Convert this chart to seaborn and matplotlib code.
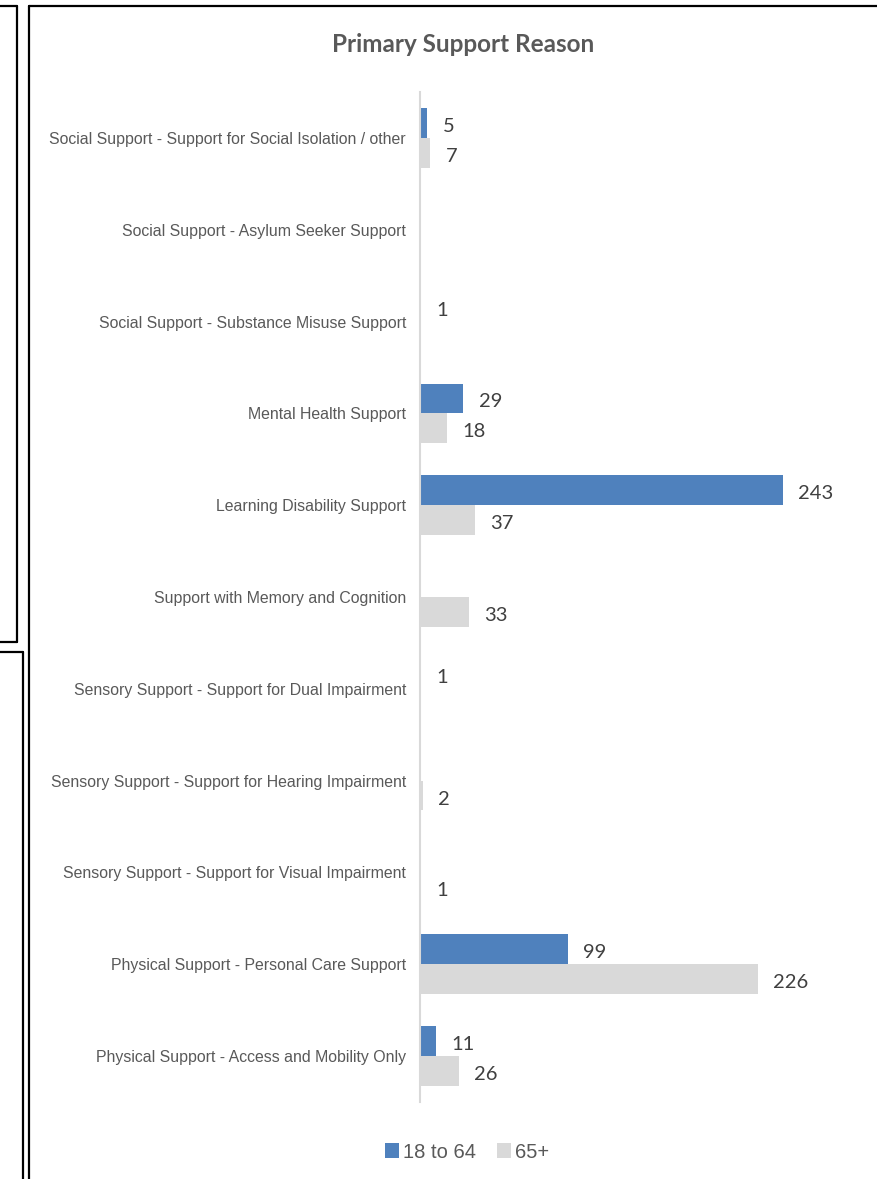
import numpy as np
import pandas as pd
import matplotlib
matplotlib.use('Agg')
import matplotlib.pyplot as plt
import seaborn as sns
from matplotlib.patches import Patch
from matplotlib.lines import Line2D

categories = [
    "Social Support - Support for Social Isolation / other",
    "Social Support - Asylum Seeker Support",
    "Social Support - Substance Misuse Support",
    "Mental Health Support",
    "Learning Disability Support",
    "Support with Memory and Cognition",
    "Sensory Support - Support for Dual Impairment",
    "Sensory Support - Support for Hearing Impairment",
    "Sensory Support - Support for Visual Impairment",
    "Physical Support - Personal Care Support",
    "Physical Support - Access and Mobility Only",
]
age_18_64 = [5, 0, 1, 29, 243, 0, 1, 0, 0, 99, 11]
age_65_plus = [7, 0, 0, 18, 37, 33, 0, 2, 1, 226, 26]
series_names = ["18 to 64", "65+"]
colors = ["#4f81bd", "#d9d9d9"]
title = "Primary Support Reason"

df = pd.DataFrame({
    "reason": categories * 2,
    "count": age_18_64 + age_65_plus,
    "group": [series_names[0]] * len(categories) + [series_names[1]] * len(categories),
})

sns.set_theme(style="white")
plt.rcParams['font.family'] = ['Liberation Sans', 'DejaVu Sans']

fig = plt.figure(figsize=(8.77, 11.79), dpi=100)
ax = fig.add_axes([420 / 877, 1 - 1102 / 1179, 450 / 877, (1102 - 92) / 1179])

sns.barplot(data=df, y="reason", x="count", hue="group", order=categories,
            hue_order=series_names, palette=colors, saturation=1, width=0.65, linewidth=0,
            orient="h", ax=ax, legend=False)

ax.set_xlim(0, 450 / 1.494)
ax.set_ylim(len(categories) - 0.5, -0.5)
ax.set_xlabel("")
ax.set_ylabel("")
ax.set_xticks([])
for s in ["top", "right", "bottom"]:
    ax.spines[s].set_visible(False)
ax.spines["left"].set_color("#d9d9d9")
ax.spines["left"].set_linewidth(1.5)
ax.tick_params(axis="y", which="major", length=0, pad=10, labelsize=11.4, labelcolor="#595959")
ax.set_yticks(np.arange(-0.5, len(categories) + 0.5, 1), minor=True)
ax.tick_params(axis="y", which="minor", length=4, width=1.2, color="#d9d9d9", direction="out")

for cont in ax.containers:
    labels = [f"{v:.0f}" if v > 0 else "" for v in cont.datavalues]
    anns = ax.bar_label(cont, labels=labels, padding=11, fontsize=14.5, color="#404040", family="Lato")
    for a in anns:
        a.xyann = (a.xyann[0], -2.5)

fig.text(463 / 877, 1 - 44 / 1179, title, ha="center", va="center", fontsize=17.5,
         fontweight="bold", color="#595959", family="Lato")

handles = [Patch(facecolor=c, edgecolor="none") for c in colors]
fig.legend(handles, series_names, loc="center", bbox_to_anchor=(467 / 877, 1 - 1152 / 1179),
           ncol=2, frameon=False, fontsize=14.5, handlelength=0.7, handleheight=0.7,
           handletextpad=0.2, columnspacing=1.0, labelcolor="#595959")

lw = 1.6
def line(xs, ys):
    fig.add_artist(Line2D(xs, ys, transform=fig.transFigure, color="black", linewidth=lw))

xm = 29 / 877
yt = 1 - 6 / 1179
line([xm, xm], [yt, 0])
line([xm, 1], [yt, yt])
x1 = 17 / 877
yb1 = 1 - 642 / 1179
line([x1, x1], [yt, yb1])
line([0, x1], [yt, yt])
line([0, x1], [yb1, yb1])
x2 = 23 / 877
yt2 = 1 - 652 / 1179
line([0, x2], [yt2, yt2])
line([x2, x2], [yt2, 0])

fig.savefig("out.png", dpi=100)
